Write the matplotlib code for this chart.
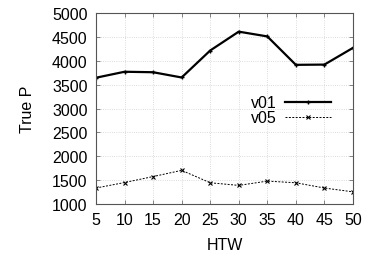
import matplotlib
matplotlib.use('Agg')
import matplotlib.pyplot as plt
plt.rc('font', family=['Liberation Sans', 'DejaVu Sans'])

htw = [5, 10, 15, 20, 25, 30, 35, 40, 45, 50]
v01 = [3645, 3770, 3760, 3650, 4215, 4610, 4510, 3915, 3920, 4270]
v05 = [1335, 1450, 1575, 1705, 1445, 1390, 1480, 1445, 1335, 1255]

fig = plt.figure(figsize=(3.65, 2.55), dpi=100)
ax = fig.add_axes([0.263, 0.196, 0.704, 0.749])

ax.plot(htw, v01, '-k', lw=1.6, marker='+', ms=3, mew=1, label='v01')
ax.plot(htw, v05, '--k', lw=0.7, dashes=(2, 1.5), marker='x', ms=3, mew=0.8, label='v05')

ax.set_xlim(5, 50)
ax.set_ylim(1000, 5000)
ax.set_xticks(htw)
ax.set_yticks(range(1000, 5001, 500))
ax.grid(True, color='#d0d0d0', linestyle=':', linewidth=0.6)
ax.tick_params(direction='in', top=True, right=True, length=3, width=0.5,
               color='#555555', labelsize=11.5, pad=6)
for s in ax.spines.values():
    s.set_linewidth(0.8)
    s.set_color('#555555')

ax.set_xlabel('HTW', fontsize=11.5, labelpad=7)
ax.set_ylabel('True P', fontsize=11.5, labelpad=12)
ax.legend(loc='center right', bbox_to_anchor=(0.94, 0.49), frameon=False,
          markerfirst=False, fontsize=11.5, handlelength=2.9,
          labelspacing=0.0, handletextpad=0.5, borderaxespad=0)

fig.savefig('out.png', dpi=100)
